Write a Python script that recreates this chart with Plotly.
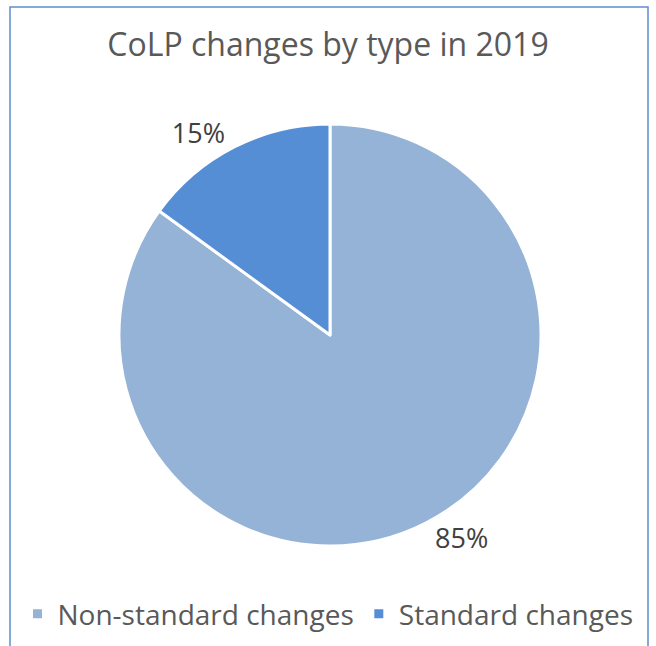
import plotly.graph_objects as go

categories = ["Non-standard changes", "Standard changes"]
values = [85, 15]
colors = ["#95B3D7", "#558ED5"]

W, H = 656, 646
FONT = "Open Sans"

fig = go.Figure(go.Pie(
    labels=categories,
    values=values,
    sort=False,
    direction="clockwise",
    rotation=0,
    marker=dict(colors=colors, line=dict(color="white", width=3)),
    textinfo="percent",
    texttemplate="%{percent:.0%}",
    textposition="outside",
    textfont=dict(family=FONT, size=27, color="#404040"),
    domain=dict(x=[119 / W, 541 / W], y=[1 - 546 / H, 1 - 124 / H]),
    hoverinfo="label+percent",
))

fig.update_layout(
    width=W, height=H,
    margin=dict(l=0, r=0, t=0, b=0),
    paper_bgcolor="white",
    title=dict(text="CoLP changes by type in 2019", x=0.5, xanchor="center",
               y=1 - 45 / H, yanchor="middle",
               font=dict(family=FONT, size=32, color="#595959")),
    legend=dict(orientation="h", x=0.5, xanchor="center", y=1 - 614 / H, yanchor="middle",
                font=dict(family=FONT, size=28, color="#595959"),
                itemwidth=30, traceorder="normal"),
    shapes=[dict(type="rect", xref="paper", yref="paper",
                 x0=10 / W, x1=648 / W, y0=-0.05, y1=1 - 7 / H,
                 line=dict(color="#5B8FD0", width=1.5), fillcolor="rgba(0,0,0,0)")],
)

fig.write_html("out.html", config={"displayModeBar": False},
               post_script="document.body.style.margin='0';document.body.style.overflow='hidden';")
